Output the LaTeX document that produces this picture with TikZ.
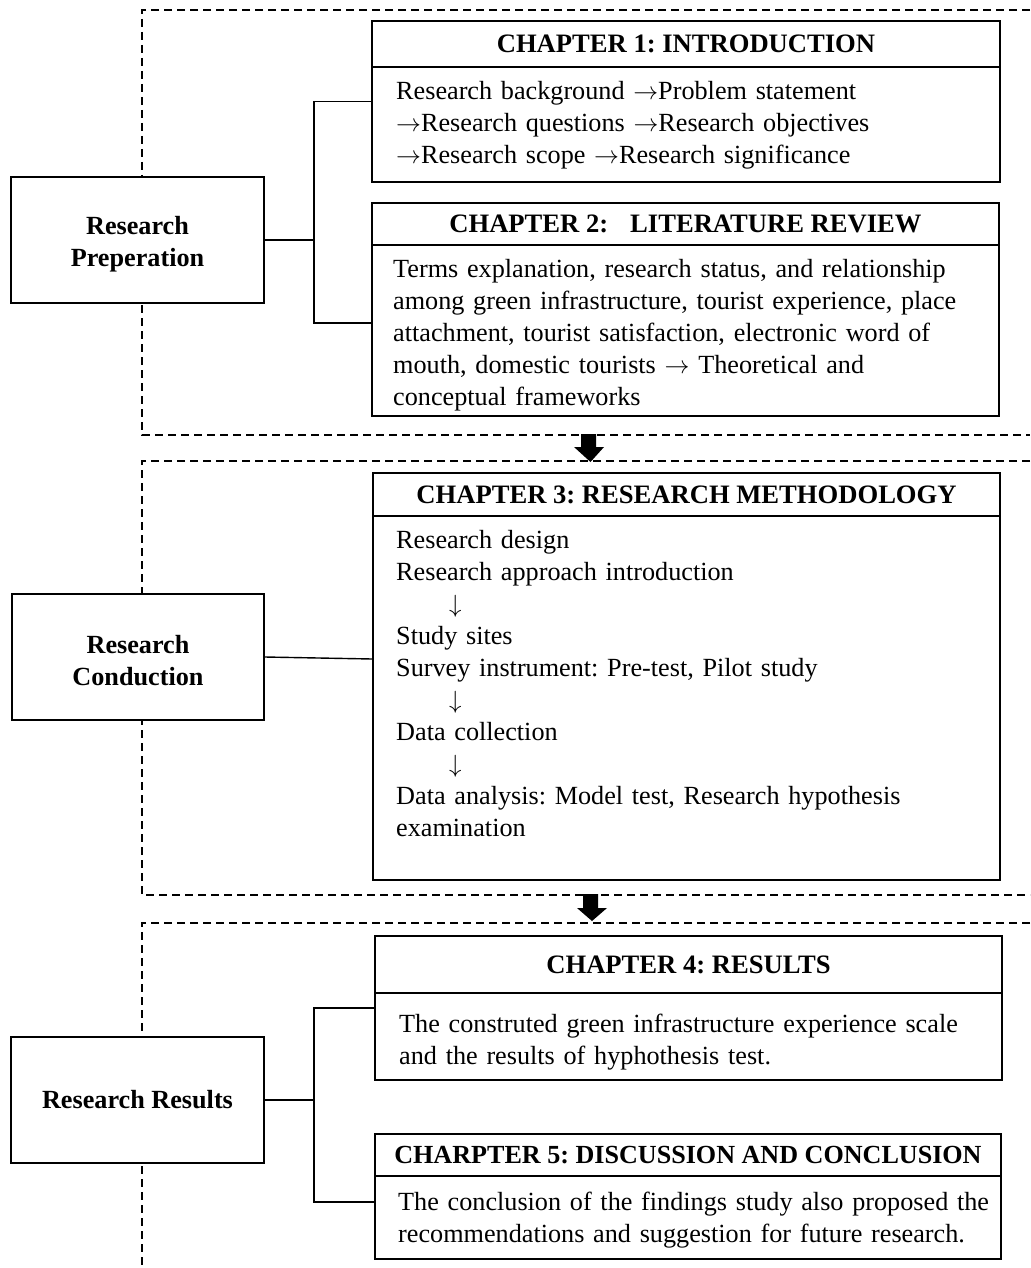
\documentclass[tikz,border=0pt]{standalone}
\usepackage{fontspec}
\setmainfont{Liberation Serif}
\newcommand{\rarr}{$\rightarrow$}
\newcommand{\darr}{$\downarrow$}
\begin{document}
\begin{tikzpicture}[x=1pt,y=-1pt,
  box/.style={draw, line width=1.4pt, fill=white, inner sep=0pt},
  sidebox/.style={box, minimum width=253pt, minimum height=126pt, align=center,
    font=\fontsize{26.2}{32}\selectfont\bfseries\frenchspacing},
  ttl/.style={font=\fontsize{26.6}{32}\selectfont\bfseries\frenchspacing, anchor=base, inner sep=0pt},
  body/.style={font=\fontsize{26.2}{32}\selectfont\frenchspacing, anchor=base west, inner sep=0pt,
    align=left, text width=600pt},
  frame/.style={dash pattern=on 8pt off 5pt, line width=1.3pt},
  link/.style={line width=1.4pt},
  divider/.style={line width=1.4pt}]
\useasboundingbox (0,0) rectangle (1030,1268);

% dashed frames
\draw[frame] (1030,10) -- (142,10) -- (142,435) -- (1030,435);
\draw[frame] (1030,461) -- (142,461) -- (142,895) -- (1030,895);
\draw[frame] (1030,923) -- (142,923) -- (142,1268);

% block arrows
\fill (581,434) -- (596,434) -- (596,447) -- (604,447) -- (590.5,462) -- (574,447) -- (581,447) -- cycle;
\fill (583,894) -- (598,894) -- (598,908) -- (607,908) -- (592,921) -- (577,908) -- (583,908) -- cycle;

% side boxes
\node[sidebox] (prep) at (137.5,240) {\rule{0pt}{26pt}Research\\Preperation};
\node[sidebox, minimum width=252pt] (cond) at (138,657) {\rule{0pt}{26pt}Research\\Conduction};
\node[sidebox] (res) at (137.5,1100) {Research Results};

% chapter boxes
\node[box, minimum width=628pt, minimum height=161pt] (c1) at (686,101.5) {};
\draw[divider] (c1.west |- 0,67) -- (c1.east |- 0,67);
\node[ttl] (t1) at (686,53) {CHAPTER 1: INTRODUCTION};
\node[body] (b1) at (396,100) {Research background \rarr Problem statement\\
\rarr Research questions \rarr Research objectives\\
\rarr Research scope \rarr Research significance};

\node[box, minimum width=627pt, minimum height=213pt] (c2) at (685.5,309.5) {};
\draw[divider] (c2.west |- 0,245) -- (c2.east |- 0,245);
\node[ttl] (t2) at (685.5,233) {CHAPTER 2:\hskip 22pt LITERATURE REVIEW};
\node[body] (b2) at (393,277) {Terms explanation, research status, and relationship\\
among green infrastructure, tourist experience, place\\
attachment, tourist satisfaction, electronic word of\\
mouth, domestic tourists \rarr{} Theoretical and\\
conceptual frameworks};

\node[box, minimum width=627pt, minimum height=407pt] (c3) at (686.5,676.5) {};
\draw[divider] (c3.west |- 0,516) -- (c3.east |- 0,516);
\node[ttl] (t3) at (686.5,503) {CHAPTER 3: RESEARCH METHODOLOGY};
\node[body] (b3) at (396,548) {Research design\\
Research approach introduction\\
\hspace*{53pt}\darr\\
Study sites\\
Survey instrument: Pre-test, Pilot study\\
\hspace*{53pt}\darr\\
Data collection\\
\hspace*{53pt}\darr\\
Data analysis: Model test, Research hypothesis\\
examination};

\node[box, minimum width=627pt, minimum height=144pt] (c4) at (688.5,1008) {};
\draw[divider] (c4.west |- 0,993) -- (c4.east |- 0,993);
\node[ttl] (t4) at (688.5,973) {CHAPTER 4: RESULTS};
\node[body] (b4) at (399,1032) {The construted green infrastructure experience scale\\
and the results of hyphothesis test.};

\node[box, minimum width=626pt, minimum height=125pt] (c5) at (688,1196.5) {};
\draw[divider] (c5.west |- 0,1176) -- (c5.east |- 0,1176);
\node[ttl, font=\fontsize{26.1}{32}\selectfont\bfseries\frenchspacing] (t5) at (688,1163) {CHARPTER 5: DISCUSSION AND CONCLUSION};
\node[body] (b5) at (398,1210) {The conclusion of the findings study also proposed the\\
recommendations and suggestion for future research.};

% connectors
\coordinate (j1) at (314,240);
\draw[link] (prep.east) -- (j1);
\draw[link] (j1) |- (c1.west);
\draw[link] (j1) |- ([yshift=-13.5pt]c2.west);

\draw[link] (cond.east) -- ([yshift=17.5pt]c3.west);

\coordinate (j3) at (314,1100);
\draw[link] (res.east) -- (j3);
\draw[link] (j3) |- (c4.west);
\draw[link] (j3) |- ([yshift=-5.5pt]c5.west);
\end{tikzpicture}
\end{document}
